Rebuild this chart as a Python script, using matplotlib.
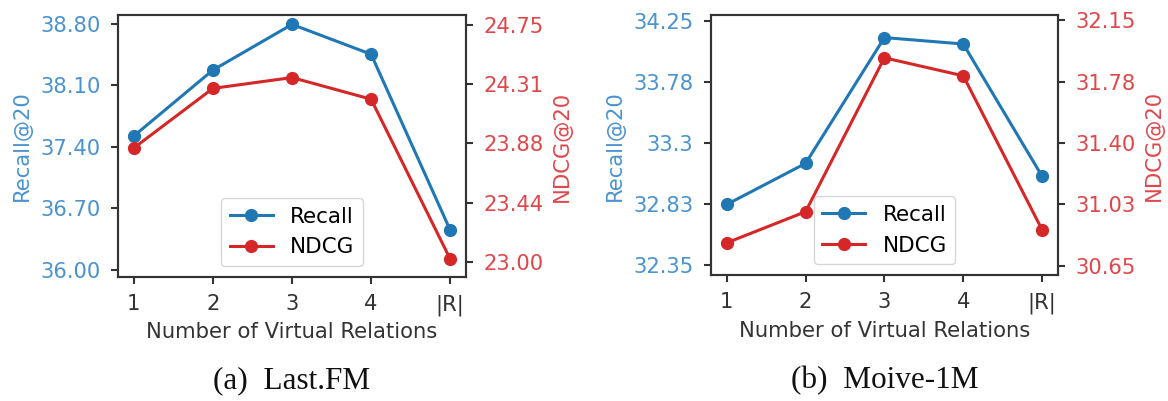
import matplotlib
matplotlib.use('Agg')
import matplotlib.pyplot as plt

# x axis
x_labels = ['1', '2', '3', '4', '|R|']
x_pos = [1, 2, 3, 4, 5]

# Last.FM
lastfm_recall = [37.52, 38.27, 38.79, 38.45, 36.45]
lastfm_ndcg = [23.84, 24.28, 24.36, 24.20, 23.02]
lastfm_recall_ticks = [36.00, 36.70, 37.40, 38.10, 38.80]
lastfm_recall_ticklabels = ['36.00', '36.70', '37.40', '38.10', '38.80']
lastfm_ndcg_ticks = [23.00, 23.4375, 23.875, 24.3125, 24.75]
lastfm_ndcg_ticklabels = ['23.00', '23.44', '23.88', '24.31', '24.75']

# Moive-1M
movie_recall = [32.82, 33.14, 34.12, 34.07, 33.04]
movie_ndcg = [30.79, 30.98, 31.92, 31.81, 30.87]
movie_recall_ticks = [32.35, 32.825, 33.30, 33.775, 34.25]
movie_recall_ticklabels = ['32.35', '32.83', '33.3', '33.78', '34.25']
movie_ndcg_ticks = [30.65, 31.025, 31.40, 31.775, 32.15]
movie_ndcg_ticklabels = ['30.65', '31.03', '31.40', '31.78', '32.15']

BLUE = '#1f77b4'
RED = '#d62728'
BLUE_TXT = '#4a93cf'
RED_TXT = '#e0474b'
FS = 15.2

plt.rcParams['font.family'] = 'DejaVu Sans'

fig = plt.figure(figsize=(11.68, 4.01), dpi=100)


def panel(rect, recall, ndcg, rticks, rlabels, nticks, nlabels, rlim, nlim, caption):
    ax = fig.add_axes(rect)
    ax2 = ax.twinx()
    l1, = ax.plot(x_pos, recall, color=BLUE, marker='o', lw=2.2, ms=8.5, label='Recall')
    l2, = ax2.plot(x_pos, ndcg, color=RED, marker='o', lw=2.2, ms=8.5, label='NDCG')
    ax.set_xlim(0.8, 5.2)
    ax.set_xticks(x_pos)
    ax.set_xticklabels(x_labels, fontsize=FS)
    ax.set_ylim(*rlim)
    ax.set_yticks(rticks)
    ax.set_yticklabels(rlabels, fontsize=FS)
    ax2.set_ylim(*nlim)
    ax2.set_yticks(nticks)
    ax2.set_yticklabels(nlabels, fontsize=FS)
    ax.set_ylabel('Recall@20', fontsize=FS, color=BLUE_TXT, labelpad=6)
    ax2.set_ylabel('NDCG@20', fontsize=FS, color=RED_TXT, labelpad=6)
    ax.set_xlabel('Number of Virtual Relations', fontsize=FS, color='#333333', labelpad=5)
    for a in (ax, ax2):
        a.tick_params(length=5, width=1.5, pad=7.5, color='#333333')
        for s in a.spines.values():
            s.set_linewidth(1.5)
            s.set_color('#333333')
    ax.tick_params(axis='y', labelcolor=BLUE_TXT)
    ax2.tick_params(axis='y', labelcolor=RED_TXT)
    ax.tick_params(axis='x', labelcolor='#333333')
    ax.legend([l1, l2], ['Recall', 'NDCG'], loc='lower center', fontsize=15.5)
    cx = rect[0] + rect[2] / 2
    fig.text(cx, 0.05, caption, ha='center', va='center', fontsize=22.5,
             family='Liberation Serif', color='#111111')


panel([0.101, 0.310, 0.298, 0.652], lastfm_recall, lastfm_ndcg,
      lastfm_recall_ticks, lastfm_recall_ticklabels,
      lastfm_ndcg_ticks, lastfm_ndcg_ticklabels,
      (35.92, 38.894), (22.89, 24.82), '(a)  Last.FM')
panel([0.6087, 0.314, 0.297, 0.648], movie_recall, movie_ndcg,
      movie_recall_ticks, movie_recall_ticklabels,
      movie_ndcg_ticks, movie_ndcg_ticklabels,
      (32.27, 34.294), (30.593, 32.18), '(b)  Moive-1M')

fig.savefig('out.png', dpi=100)
